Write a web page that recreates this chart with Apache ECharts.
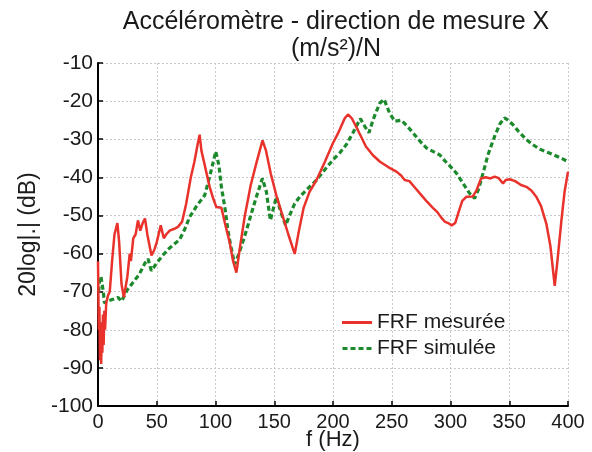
<!DOCTYPE html>
<html><head><meta charset="utf-8">
<script src="https://cdn.jsdelivr.net/npm/echarts@6/dist/echarts.min.js"></script>
<style>html,body{margin:0;padding:0;background:#fff}#c{width:592px;height:452px}</style>
</head><body><div id="c"></div>
<script>
const titleText = 'Accéléromètre - direction de mesure X\n(m/s²)/N';
const xTicks = [0, 50, 100, 150, 200, 250, 300, 350, 400];
const yTicks = [-100, -90, -80, -70, -60, -50, -40, -30, -20, -10];
const seriesNames = ['FRF mesurée', 'FRF simulée'];

const measuredF = [0,0.7,1.2,1.7,2.2,2.7,3.2,3.7,4.2,4.8,5.4,6,7,8.5,10,12,14,16.5,18,20,22,25,27,28,30,32,34,36,38,40,42,45.5,48,50,53.4,56,58,61,65,68,71.5,75,79,82,85,86.5,88,91,95,98,100.7,105,108,112,115,117.8,121,125,130,135,140,143,147,152,157,162,167.4,171,175,180,186,193,200,205,210,212.8,216,221,228,234,240,247,254,258,261,265,270,275,280,285,289,292,295,298,301,304,307,310,313.5,319,322,326,330,334,337.6,341,344.7,347,350.4,355,360,364.6,369,373,377,381.6,385,388.7,391,394.4,397,400];
const measuredDb = [-62,-80,-74,-88,-78,-89,-80,-86,-76,-84,-75,-80,-73,-71,-70,-62,-55,-52,-57,-68,-71.5,-66,-60,-62,-56,-55,-51.3,-54,-52,-50.8,-55,-60.5,-59,-57,-52.6,-56,-55,-54,-53.5,-53,-51.7,-47,-40,-36,-31,-28.8,-33,-37,-42.5,-45.5,-47.8,-48,-52,-57,-62,-65,-58,-50,-42,-36,-30.3,-33,-39,-45,-50,-55,-60.1,-54,-48,-43.8,-40.7,-36,-31,-28,-24.5,-23.5,-24.5,-27.5,-31.9,-34.2,-35.9,-37.3,-38.5,-39.5,-40.7,-41,-42.8,-44.6,-46.4,-48,-49.2,-50.5,-51.6,-52,-52.6,-52,-49,-46.2,-45.1,-45,-43.5,-40.3,-40,-40.3,-39.8,-40.2,-41.6,-40.7,-40.5,-41,-42,-42.5,-43.5,-45.1,-47.5,-52.2,-58,-68.5,-62,-51.3,-44,-38.5];

const simF = [0.5,1.5,2.5,3.4,4.5,5.5,8,12.8,17,20,25,30,35,40,42.6,45.4,50,55,60,65,69.5,74,78,84,90.8,94,96.5,100.2,103,105,108,110.6,113,116.3,120,126.3,130,134.8,139.9,143.3,146.7,151.8,156,159.7,163,167.4,172,180,186,193,200,206,211.4,217,223.3,227,230.6,234,237,240,243.4,246,248,252.5,258,263,268,274,279.5,285,290.8,295,300,305,310,316.3,320.6,324,327.7,332,337.6,342,346,349,353.2,358,364.6,370,375.9,383,390,395,400];
const simDb = [-70,-67,-66,-65.8,-70,-73,-72.5,-72,-71.5,-72.5,-69.5,-67.5,-65.5,-62.5,-61.4,-64.5,-62.5,-60.5,-58.8,-57.5,-56.3,-53.5,-50.4,-47.5,-44.7,-41,-38,-33.2,-37,-42.5,-48,-54,-58,-62.8,-60,-54,-50,-45.1,-40.3,-43.8,-51.3,-45.1,-49.5,-52.6,-50,-46.9,-45,-42.5,-40.7,-38,-35.4,-33.5,-31.4,-28.3,-24.6,-26.6,-28.3,-25,-22.6,-20.5,-19.5,-21.5,-23,-25.3,-25,-26.5,-28.3,-30.5,-32.3,-33.2,-34.1,-35.6,-37.2,-38.9,-41.3,-44.2,-45.5,-43,-38.9,-34,-29.2,-26,-24.4,-25,-26.2,-28,-30.1,-31.4,-32.6,-33.5,-34.4,-35.1,-35.9];

const zip = (a, b) => a.map((v, i) => [v, b[i]]);
const FONT = '"Liberation Sans", Arial, sans-serif';
const TXT = '#1a1a1a';
const RED = '#e8322b';
const GREEN = '#1c8a2c';

const chart = echarts.init(document.getElementById('c'), null, {renderer: 'canvas'});
chart.setOption({
  animation: false,
  backgroundColor: '#fff',
  title: {
    text: titleText, left: 336, top: 9, textAlign: 'center', padding: 0,
    textStyle: {fontFamily: FONT, fontSize: 25, fontWeight: 'normal', color: TXT, lineHeight: 27}
  },
  grid: {left: 98, right: 24, top: 63, bottom: 46, containLabel: false, outerBoundsMode: 'none'},
  legend: {
    orient: 'vertical', left: 342, top: 312, padding: 0,
    itemWidth: 30, itemHeight: 3, itemGap: 5,
    textStyle: {fontFamily: FONT, fontSize: 21, color: TXT, lineHeight: 21},
    data: [
      {name: seriesNames[0], icon: 'path://M0,0h30v3h-30z'},
      {name: seriesNames[1], icon: 'path://M0,0h5v3h-5zM8,0h5v3h-5zM16,0h5v3h-5zM24,0h5v3h-5z'}
    ]
  },
  xAxis: {
    type: 'value', min: xTicks[0], max: xTicks[xTicks.length - 1], interval: 50,
    name: 'f (Hz)', nameLocation: 'middle', nameGap: 23, nameMoveOverlap: false,
    nameTextStyle: {fontFamily: FONT, fontSize: 22, color: TXT},
    axisLine: {lineStyle: {color: '#000', width: 2}},
    axisTick: {inside: true, length: 5, lineStyle: {color: '#000', width: 1.5}},
    axisLabel: {fontFamily: FONT, fontSize: 20, color: TXT, margin: 6},
    splitLine: {show: true, lineStyle: {type: [2, 2], color: '#c8c8c8', width: 1}}
  },
  yAxis: {
    type: 'value', min: yTicks[0], max: yTicks[yTicks.length - 1], interval: 10,
    name: '20log|.| (dB)', nameLocation: 'middle', nameGap: 58, nameMoveOverlap: false,
    nameTextStyle: {fontFamily: FONT, fontSize: 23, color: TXT},
    axisLine: {show: true, lineStyle: {color: '#000', width: 2}},
    axisTick: {show: true, inside: true, length: 5, lineStyle: {color: '#000', width: 1.5}},
    axisLabel: {fontFamily: FONT, fontSize: 21, color: TXT, margin: 5},
    splitLine: {show: true, lineStyle: {type: [2, 2], color: '#c8c8c8', width: 1}}
  },
  series: [
    {
      name: seriesNames[0], type: 'line', symbol: 'none', showSymbol: false, z: 3,
      data: zip(measuredF, measuredDb),
      lineStyle: {color: RED, width: 2.5}, itemStyle: {color: RED}
    },
    {
      name: seriesNames[1], type: 'line', symbol: 'none', showSymbol: false, z: 2,
      data: zip(simF, simDb),
      lineStyle: {color: GREEN, width: 3.2, type: [5, 3]}, itemStyle: {color: GREEN}
    }
  ]
});
</script></body></html>
